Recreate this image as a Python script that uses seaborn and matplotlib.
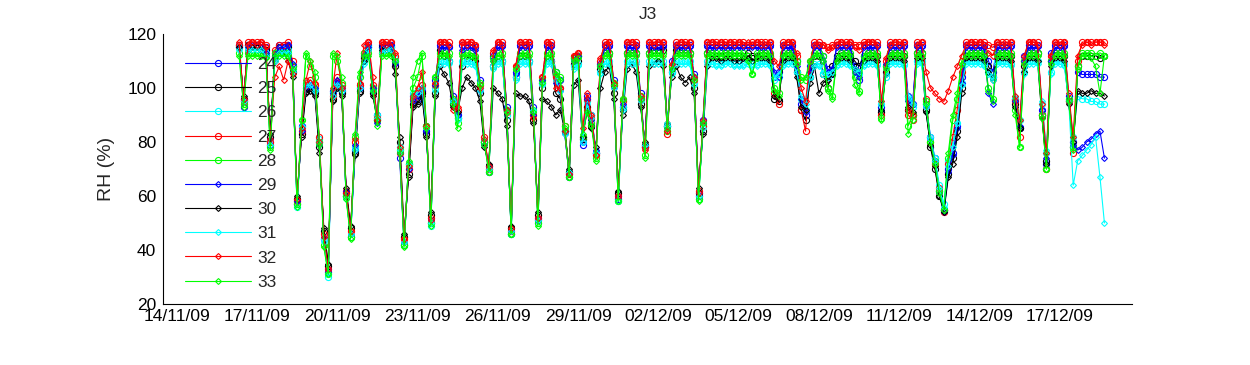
import pandas as pd
import matplotlib.pyplot as plt
import matplotlib.dates as mdates
import seaborn as sns
plt.switch_backend('Agg')

# 4-hourly readings, 16/11/09 08:00 -> 18/12/09 16:00
times = pd.date_range("2009-11-16 08:00", "2009-12-18 16:00", freq="4h")

sensors = ["24", "25", "26", "27", "28", "29", "30", "31", "32", "33"]

rh_24 = [
    116, 93, 116, 116,
    116, 116, 115, 79, 113, 116,
    116, 116, 108, 57, 86, 100,
    101, 99, 80, 44, 32, 99,
    102, 99, 60, 45, 77, 100,
    112, 116, 99, 90, 116, 116,
    116, 110, 74, 42, 72, 97,
    96, 99, 84, 50, 103, 116,
    116, 115, 97, 90, 116, 116,
    116, 115, 103, 80, 69, 112,
    116, 116, 93, 46, 106, 116,
    116, 116, 93, 51, 102, 116,
    116, 106, 103, 84, 67, 111,
    112, 79, 97, 90, 76, 109,
    116, 116, 103, 59, 93, 116,
    116, 116, 98, 78, 116, 116,
    116, 116, 86, 110, 116, 116,
    116, 116, 105, 60, 88, 116,
    116, 116, 116, 116, 116, 116,
    116, 116, 116, 116, 116, 116,
    116, 116, 104, 106, 116, 116,
    116, 110, 94, 90, 108, 116,
    116, 112, 107, 105, 116, 116,
    116, 116, 108, 103, 116, 116,
    116, 116, 93, 108, 116, 116,
    116, 116, 97, 94, 116, 116,
    94, 82, 74, 62, 55, 70,
    76, 86, 104, 116, 116, 116,
    116, 116, 110, 106, 116, 116,
    116, 116, 96, 85, 112, 116,
    116, 116, 92, 72, 113, 116,
    116, 116, 97, 80, 106, 105,
    105, 105, 105, 104, 104,
]

rh_25 = [
    115, 96, 116, 116,
    116, 116, 114, 82, 112, 115,
    115, 115, 106, 59, 83, 99,
    100, 98, 78, 47, 34, 96,
    101, 98, 61, 48, 76, 99,
    111, 115, 98, 88, 115, 115,
    115, 108, 80, 45, 68, 94,
    95, 98, 83, 53, 98, 114,
    112, 110, 94, 89, 108, 111,
    112, 110, 98, 80, 71, 108,
    111, 110, 88, 48, 104, 112,
    112, 110, 88, 53, 100, 111,
    110, 98, 96, 84, 69, 109,
    110, 81, 93, 86, 76, 107,
    113, 113, 98, 61, 92, 113,
    113, 113, 94, 79, 113, 114,
    114, 114, 86, 106, 114, 113,
    113, 113, 100, 61, 84, 113,
    113, 112, 112, 113, 113, 112,
    112, 112, 113, 112, 112, 113,
    113, 112, 96, 95, 112, 113,
    113, 106, 92, 88, 104, 112,
    112, 105, 100, 108, 112, 113,
    113, 112, 110, 108, 112, 113,
    113, 112, 91, 106, 113, 113,
    113, 112, 92, 90, 113, 113,
    92, 78, 70, 60, 55, 68,
    74, 84, 100, 112, 113, 113,
    113, 112, 108, 104, 113, 113,
    113, 112, 94, 85, 108, 113,
    113, 113, 90, 73, 110, 113,
    113, 112, 95, 78, 108, 112,
    112, 112, 112, 111, 112,
]

rh_26 = [
    115, 95, 115, 115,
    115, 115, 113, 80, 111, 114,
    114, 114, 107, 56, 85, 102,
    102, 100, 81, 44, 30, 98,
    102, 100, 60, 45, 78, 101,
    110, 115, 100, 90, 114, 115,
    115, 111, 78, 42, 71, 98,
    99, 101, 86, 49, 100, 110,
    110, 110, 95, 89, 110, 110,
    110, 109, 100, 80, 70, 108,
    110, 110, 90, 46, 104, 110,
    110, 110, 91, 50, 102, 110,
    110, 104, 100, 84, 68, 108,
    109, 80, 95, 90, 76, 106,
    110, 110, 101, 58, 93, 110,
    110, 110, 96, 78, 110, 110,
    110, 110, 86, 106, 110, 110,
    110, 110, 102, 59, 86, 110,
    110, 109, 109, 110, 110, 109,
    109, 109, 110, 109, 109, 110,
    110, 109, 103, 104, 109, 110,
    110, 106, 96, 92, 104, 109,
    109, 105, 104, 106, 109, 110,
    110, 109, 106, 105, 109, 110,
    110, 109, 94, 104, 110, 110,
    110, 109, 96, 93, 110, 110,
    94, 82, 74, 64, 57, 73,
    80, 87, 102, 110, 110, 110,
    110, 109, 106, 104, 110, 110,
    110, 109, 96, 88, 106, 110,
    110, 110, 94, 76, 106, 110,
    110, 109, 96, 82, 97, 96,
    96, 95, 95, 94, 94,
]

rh_27 = [
    116, 95, 117, 117,
    117, 117, 116, 80, 114, 116,
    116, 117, 110, 58, 84, 101,
    103, 101, 82, 46, 33, 97,
    104, 101, 62, 47, 80, 101,
    113, 117, 101, 89, 117, 117,
    117, 112, 76, 44, 70, 96,
    98, 101, 86, 52, 101, 117,
    117, 117, 96, 92, 117, 117,
    117, 116, 101, 82, 70, 113,
    117, 117, 91, 47, 108, 117,
    117, 117, 90, 52, 104, 117,
    117, 104, 100, 86, 68, 112,
    113, 82, 96, 89, 75, 110,
    117, 117, 101, 60, 95, 117,
    117, 117, 96, 78, 117, 117,
    117, 117, 83, 108, 117, 117,
    117, 117, 103, 62, 86, 117,
    117, 117, 117, 117, 117, 117,
    117, 117, 116, 117, 117, 117,
    117, 117, 98, 94, 117, 117,
    117, 112, 92, 84, 107, 117,
    117, 116, 115, 116, 117, 117,
    117, 117, 116, 116, 117, 117,
    117, 117, 90, 110, 117, 117,
    117, 117, 90, 88, 117, 117,
    96, 80, 72, 63, 54, 72,
    82, 92, 106, 117, 117, 117,
    117, 117, 116, 115, 117, 117,
    117, 117, 95, 82, 110, 117,
    117, 117, 90, 70, 112, 117,
    117, 117, 95, 76, 110, 117,
    117, 117, 117, 117, 117,
]

rh_28 = [
    113, 94, 113, 113,
    113, 113, 112, 78, 113, 113,
    113, 113, 108, 57, 88, 112,
    108, 104, 80, 42, 31, 112,
    110, 102, 60, 45, 82, 104,
    113, 113, 100, 88, 113, 113,
    113, 110, 77, 42, 72, 100,
    104, 112, 86, 50, 104, 113,
    113, 113, 96, 87, 113, 113,
    113, 112, 102, 80, 69, 111,
    113, 113, 92, 46, 107, 113,
    113, 113, 92, 50, 103, 113,
    113, 106, 104, 86, 67, 111,
    112, 82, 92, 87, 74, 108,
    113, 113, 102, 58, 96, 113,
    113, 113, 97, 75, 113, 113,
    113, 113, 84, 108, 113, 113,
    113, 113, 104, 59, 87, 113,
    113, 113, 113, 113, 113, 113,
    113, 113, 112, 105, 113, 113,
    113, 113, 100, 98, 113, 113,
    113, 110, 104, 103, 110, 113,
    113, 112, 100, 97, 111, 113,
    113, 113, 104, 99, 112, 113,
    113, 113, 89, 108, 113, 113,
    113, 113, 86, 90, 113, 113,
    95, 80, 73, 62, 55, 74,
    88, 96, 110, 113, 113, 113,
    113, 113, 100, 96, 113, 113,
    113, 113, 92, 78, 110, 113,
    113, 113, 90, 70, 110, 113,
    113, 113, 96, 78, 108, 113,
    113, 113, 112, 113, 112,
]

rh_29 = [
    115, 96, 115, 116,
    116, 115, 113, 81, 112, 115,
    115, 116, 109, 58, 84, 100,
    101, 100, 79, 45, 33, 98,
    103, 100, 62, 46, 79, 100,
    112, 115, 100, 87, 115, 116,
    116, 109, 76, 43, 70, 95,
    97, 100, 84, 51, 101, 115,
    115, 115, 95, 90, 114, 115,
    115, 114, 99, 79, 71, 110,
    115, 115, 92, 47, 105, 115,
    115, 115, 90, 52, 103, 115,
    115, 102, 99, 83, 68, 110,
    112, 80, 96, 88, 77, 108,
    115, 115, 100, 60, 94, 115,
    115, 115, 96, 79, 115, 115,
    115, 115, 85, 107, 115, 115,
    115, 115, 104, 61, 87, 115,
    115, 115, 115, 115, 115, 115,
    115, 115, 115, 115, 115, 115,
    115, 115, 106, 104, 115, 115,
    115, 108, 96, 91, 106, 115,
    115, 110, 106, 107, 115, 115,
    115, 115, 106, 104, 115, 115,
    115, 115, 92, 109, 115, 115,
    115, 115, 95, 94, 115, 115,
    93, 81, 73, 61, 54, 69,
    75, 85, 102, 115, 115, 115,
    115, 115, 98, 94, 115, 115,
    115, 115, 95, 86, 110, 115,
    115, 115, 92, 74, 110, 115,
    115, 115, 95, 79, 77, 78,
    80, 81, 83, 84, 74,
]

rh_30 = [
    115, 97, 114, 115,
    115, 114, 112, 83, 110, 113,
    113, 110, 104, 60, 82, 98,
    99, 97, 76, 48, 35, 95,
    100, 97, 63, 49, 75, 98,
    110, 114, 97, 88, 114, 114,
    114, 105, 82, 46, 67, 93,
    94, 97, 82, 54, 97, 108,
    105, 102, 93, 91, 100, 104,
    102, 100, 95, 78, 72, 100,
    98, 96, 86, 49, 98, 97,
    97, 95, 87, 54, 96, 95,
    93, 90, 92, 84, 70, 101,
    103, 82, 91, 85, 78, 100,
    106, 108, 96, 62, 90, 107,
    109, 106, 93, 80, 108, 109,
    110, 108, 87, 104, 108, 104,
    102, 104, 98, 63, 83, 108,
    111, 111, 110, 111, 111, 110,
    110, 111, 111, 110, 111, 111,
    111, 110, 97, 96, 110, 111,
    111, 104, 93, 92, 102, 108,
    98, 102, 103, 105, 110, 111,
    111, 110, 107, 106, 110, 111,
    111, 110, 92, 105, 111, 111,
    111, 110, 93, 91, 111, 111,
    91, 79, 71, 60, 54, 67,
    72, 82, 98, 111, 111, 111,
    111, 110, 106, 103, 111, 111,
    111, 110, 93, 85, 106, 111,
    111, 110, 89, 72, 108, 111,
    111, 110, 94, 80, 99, 98,
    98, 99, 98, 98, 97,
]

rh_31 = [
    114, 95, 114, 114,
    114, 114, 112, 79, 110, 113,
    113, 113, 106, 56, 86, 101,
    101, 99, 80, 43, 31, 97,
    101, 99, 59, 46, 77, 100,
    109, 114, 99, 89, 113, 114,
    114, 110, 77, 43, 72, 97,
    98, 100, 85, 50, 99, 109,
    109, 109, 95, 88, 109, 109,
    109, 108, 99, 81, 70, 107,
    109, 109, 91, 47, 103, 109,
    109, 109, 92, 51, 101, 109,
    109, 103, 99, 83, 69, 107,
    108, 80, 94, 89, 76, 105,
    109, 109, 100, 58, 92, 109,
    109, 109, 95, 79, 109, 109,
    109, 109, 87, 105, 109, 109,
    109, 109, 101, 60, 85, 109,
    109, 108, 108, 109, 109, 108,
    108, 108, 109, 108, 108, 109,
    109, 108, 104, 105, 108, 109,
    109, 106, 97, 94, 104, 108,
    108, 106, 105, 106, 108, 109,
    109, 108, 107, 106, 108, 109,
    109, 108, 95, 105, 109, 109,
    109, 108, 97, 94, 109, 109,
    93, 81, 73, 63, 56, 71,
    78, 87, 101, 109, 109, 109,
    109, 108, 105, 103, 109, 109,
    109, 108, 97, 88, 105, 109,
    109, 109, 95, 77, 105, 109,
    109, 108, 95, 64, 73, 75,
    77, 79, 82, 67, 50,
]

rh_32 = [
    117, 96, 116, 117,
    116, 117, 115, 81, 104, 108,
    103, 110, 105, 59, 85, 103,
    110, 102, 80, 45, 33, 100,
    113, 100, 61, 47, 81, 102,
    116, 117, 104, 88, 117, 116,
    117, 113, 78, 44, 71, 97,
    100, 106, 86, 51, 102, 117,
    117, 116, 92, 93, 117, 116,
    117, 116, 100, 81, 71, 114,
    117, 116, 92, 48, 108, 117,
    116, 117, 89, 52, 104, 117,
    116, 100, 100, 84, 68, 112,
    113, 85, 98, 90, 75, 111,
    116, 117, 102, 60, 96, 117,
    117, 116, 97, 77, 117, 116,
    117, 117, 84, 109, 116, 117,
    116, 117, 104, 61, 88, 117,
    117, 116, 117, 116, 117, 116,
    117, 116, 117, 116, 117, 116,
    116, 117, 110, 108, 116, 117,
    117, 113, 100, 95, 110, 116,
    116, 116, 114, 115, 116, 117,
    116, 117, 115, 114, 116, 117,
    117, 116, 95, 111, 116, 117,
    116, 117, 92, 90, 116, 117,
    106, 100, 98, 96, 95, 99,
    104, 108, 112, 116, 117, 116,
    117, 116, 113, 112, 117, 116,
    116, 117, 97, 88, 112, 117,
    117, 116, 94, 76, 112, 117,
    116, 117, 98, 82, 112, 116,
    117, 116, 117, 117, 116,
]

rh_33 = [
    112, 93, 112, 112,
    112, 112, 111, 77, 112, 112,
    112, 112, 107, 56, 88, 113,
    110, 106, 79, 41, 31, 113,
    112, 104, 59, 44, 83, 106,
    112, 112, 99, 86, 112, 112,
    112, 110, 76, 41, 73, 104,
    110, 113, 85, 49, 104, 112,
    112, 112, 94, 85, 112, 112,
    112, 111, 101, 79, 69, 110,
    112, 112, 91, 46, 107, 112,
    112, 112, 91, 49, 102, 112,
    112, 105, 103, 85, 67, 110,
    111, 83, 91, 86, 73, 108,
    112, 112, 101, 58, 96, 112,
    112, 112, 96, 74, 112, 112,
    112, 112, 85, 107, 112, 112,
    112, 112, 103, 58, 87, 112,
    112, 112, 112, 112, 112, 112,
    112, 112, 110, 105, 111, 112,
    112, 112, 99, 97, 112, 112,
    112, 109, 103, 104, 110, 112,
    112, 110, 99, 96, 110, 112,
    112, 112, 101, 98, 111, 112,
    112, 112, 88, 107, 112, 112,
    112, 112, 83, 88, 112, 112,
    94, 80, 72, 61, 55, 76,
    90, 98, 109, 112, 112, 112,
    112, 112, 99, 95, 112, 112,
    112, 112, 90, 78, 109, 112,
    112, 112, 89, 70, 109, 112,
    112, 112, 95, 77, 107, 112,
    112, 111, 108, 98, 112,
]

all_rh = [rh_24, rh_25, rh_26, rh_27, rh_28, rh_29, rh_30, rh_31, rh_32, rh_33]
line_colors = ['#0000ff', '#000000', '#00ffff', '#ff0000', '#00ff00'] * 2
line_markers = ['o'] * 5 + ['D'] * 5
marker_sizes = [4.4] * 5 + [3.0] * 5

sns.set_style("white")
plt.rcParams['font.family'] = ['Liberation Sans', 'DejaVu Sans']

fig = plt.figure(figsize=(12.5, 3.65), dpi=100)
ax = fig.add_axes([0.1306, 0.167, 0.7748, 0.740])

for name, vals, col, mk, ms in zip(sensors, all_rh, line_colors, line_markers, marker_sizes):
    sns.lineplot(x=times, y=vals, ax=ax, color=col, marker=mk, markersize=ms,
                 markerfacecolor='none', markeredgecolor=col, markeredgewidth=0.8,
                 linewidth=0.8, label=name, estimator=None, sort=False)

ax.set_xlim(pd.Timestamp("2009-11-13 12:00"), pd.Timestamp("2009-12-19 16:30"))
ax.set_ylim(20, 120)
ax.set_yticks([20, 40, 60, 80, 100, 120])
ax.set_xticks(pd.date_range("2009-11-14", "2009-12-17", freq="3D"))
ax.xaxis.set_major_formatter(mdates.DateFormatter('%d/%m/%y'))

ax.tick_params(axis='both', direction='in', length=7, width=0.8, labelsize=12.5,
               colors='black')
ax.tick_params(axis='x', pad=3.5)
ax.tick_params(axis='y', pad=5)
for side in ['top', 'right']:
    ax.spines[side].set_visible(False)
for side in ['left', 'bottom']:
    ax.spines[side].set_color('black')
    ax.spines[side].set_linewidth(0.8)

ax.set_xlabel("")
ax.set_ylabel("RH (%)", fontsize=14, labelpad=9)
ax.set_title("J3", fontsize=12.5, pad=11)

ax.legend(loc='upper left', bbox_to_anchor=(0.022, 0.915), frameon=False,
          fontsize=12.5, borderpad=0, borderaxespad=0, handlelength=3.8,
          handletextpad=0.4, labelspacing=0.52)

plt.savefig("out.png", dpi=100)
